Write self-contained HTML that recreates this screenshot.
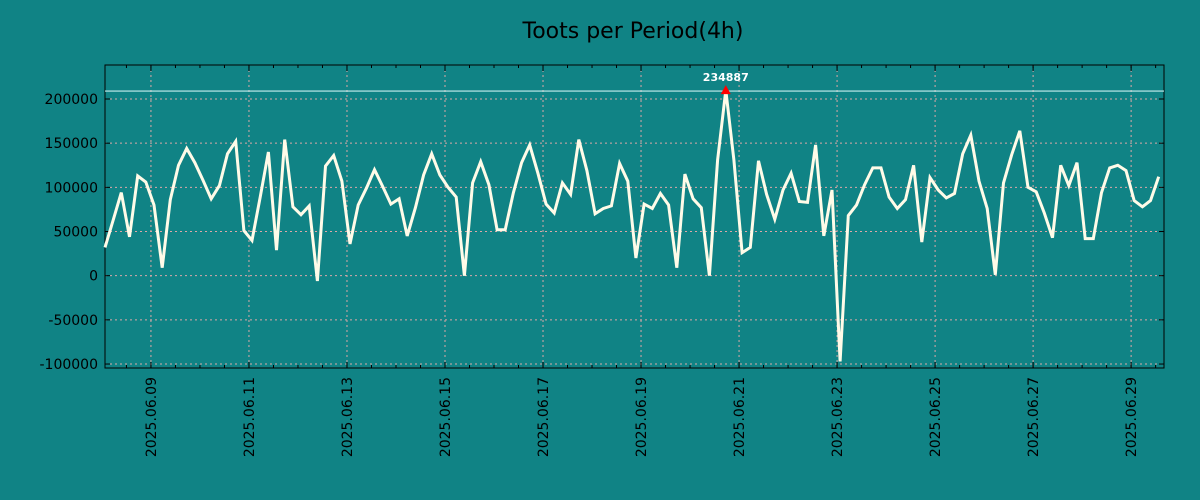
<!DOCTYPE html>
<html><head><meta charset="utf-8"><style>
body{margin:0;background:#108385;}
svg{display:block;font-family:"DejaVu Sans","Liberation Sans",sans-serif;}
</style></head><body>
<svg id="chart" width="1200" height="500">
<rect width="1200" height="500" fill="#108385"/>
<text x="633" y="38" font-size="22" text-anchor="middle" fill="#000">Toots per Period(4h)</text>
<g id="grid"></g><g id="axes"></g><g id="series"></g>
</svg>
<script>
const values=[32000,63000,94000,44000,113000,106000,80000,9000,86000,125000,
144000,128000,108000,87000,102000,138000,152000,51000,40000,89000,
140000,29000,154000,78000,69000,79000,-6000,124000,136000,107000,
36000,80000,99000,120000,101000,81000,87000,45000,77000,114000,
138000,114000,100000,89000,0,105000,129000,103000,52000,52000,
94000,128000,148000,116000,81000,71000,105000,92000,154000,119000,
70000,76000,79000,127000,107000,20000,81000,76000,93000,80000,
9000,115000,87000,77000,0,131000,210000,131000,26000,32000,
130000,92000,64000,97000,116000,84000,83000,148000,45000,97000,
-97000,68000,80000,103000,122000,122000,89000,76000,86000,125000,
38000,111000,97000,88000,93000,138000,159000,107000,76000,1000,
105000,137000,164000,100000,95000,71000,43000,125000,102000,128000,
42000,42000,94000,122000,125000,119000,85000,78000,85000,112000];
const periodHours=4;
const yTicks=[-100000,-50000,0,50000,100000,150000,200000];
const dayLabels=["2025.06.09","2025.06.11","2025.06.13","2025.06.15","2025.06.17","2025.06.19","2025.06.21","2025.06.23","2025.06.25","2025.06.27","2025.06.29"];
const firstLabelHour=22.5;
const peakLabel="234887";
const refLineValue=209000;

const L=105,R=1164,T=65,B=368;
const hMax=518.6, yMin=-104500, yMax=238500;
const X=h=>L+(h/hMax)*(R-L);
const Y=v=>B-(v-yMin)/(yMax-yMin)*(B-T);
const NS="http://www.w3.org/2000/svg";
function mk(tag,attrs,parent){const e=document.createElementNS(NS,tag);for(const k in attrs)e.setAttribute(k,attrs[k]);parent.appendChild(e);return e;}
const grid=document.getElementById('grid'),axes=document.getElementById('axes'),series=document.getElementById('series');

yTicks.forEach(v=>{
 const y=Y(v);
 const g=mk('line',{x1:L,x2:R,y1:y,y2:y,stroke:'#d9a8a8','stroke-width':1,'stroke-dasharray':'2,3'},grid);
 
 
 mk('line',{x1:L,x2:L+5,y1:y,y2:y,stroke:'#000'},axes);
 mk('line',{x1:R-5,x2:R,y1:y,y2:y,stroke:'#000'},axes);
 const t=mk('text',{x:L-7,y:y+5,'font-size':14,'text-anchor':'end',fill:'#000'},axes);
 t.textContent=v;
 
 
});
for(let h=firstLabelHour-24;h<hMax;h+=12){
 if(h<0)continue;const x=X(h);
 mk('line',{x1:x,x2:x,y1:B,y2:B-3,stroke:'#000'},axes);
 mk('line',{x1:x,x2:x,y1:T,y2:T+3,stroke:'#000'},axes);
}
dayLabels.forEach((d,i)=>{
 const x=X(firstLabelHour+i*48);
 const g=mk('line',{x1:x,x2:x,y1:T,y2:B,stroke:'#d9a8a8','stroke-width':1,'stroke-dasharray':'2,3'},grid);
 
 
 mk('line',{x1:x,x2:x,y1:B,y2:B-6,stroke:'#000'},axes);
 mk('line',{x1:x,x2:x,y1:T,y2:T+6,stroke:'#000'},axes);
 const t=mk('text',{x:0,y:0,'font-size':14,'text-anchor':'end',fill:'#000',transform:`translate(${x+5},377) rotate(-90)`},axes);
 t.textContent=d;
 
 
});
const fr=mk('rect',{x:L,y:T,width:R-L,height:B-T,fill:'none',stroke:'#000','stroke-width':1},axes);


const rl=mk('line',{x1:L,x2:R,y1:Y(refLineValue),y2:Y(refLineValue),stroke:'#c8eeee','stroke-width':1.2},series);


const pts=values.map((v,i)=>X(i*periodHours).toFixed(1)+','+Y(v).toFixed(1)).join(' ');
const pl=mk('polyline',{points:pts,fill:'none',stroke:'#fffbe8','stroke-width':3,'stroke-linejoin':'miter'},series);


let mi=0;values.forEach((v,i)=>{if(v>values[mi])mi=i;});
const px=X(mi*periodHours),py=Y(values[mi]);
const tri=mk('polygon',{points:`${px-5},${py+4} ${px+5},${py+4} ${px},${py-5}`,fill:'#ff0000'},series);


const pt=mk('text',{x:px,y:py-9,'font-size':11,'font-weight':'bold','text-anchor':'middle',fill:'#fff'},series);
pt.textContent=peakLabel;


</script>
</body></html>
